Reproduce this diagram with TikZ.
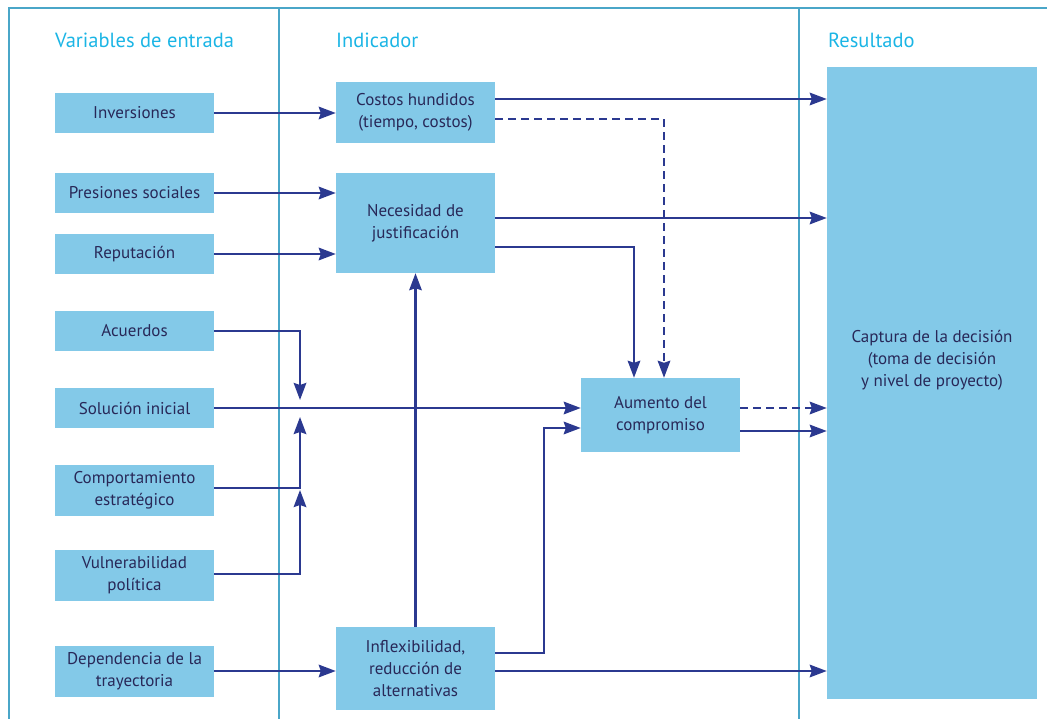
\documentclass[tikz,border=0pt]{standalone}
\usepackage{fontspec}
\setmainfont{PT Sans}
\usetikzlibrary{arrows.meta}
\definecolor{boxblue}{RGB}{131,201,232}
\definecolor{framecol}{RGB}{74,166,200}
\definecolor{headcol}{RGB}{27,181,229}
\definecolor{arrowcol}{RGB}{43,57,144}
\definecolor{txtcol}{RGB}{40,40,88}
\begin{document}
\begin{tikzpicture}[x=1pt,y=-1pt,
  box/.style={fill=boxblue,text=txtcol,align=center,inner sep=0pt,
    minimum width=159pt,font=\fontsize{17}{22}\selectfont},
  head/.style={text=headcol,anchor=west,inner sep=0pt,font=\fontsize{20.5}{24}\selectfont},
  frameline/.style={draw=framecol,line width=2.4pt},
  conn/.style={draw=arrowcol,line width=2.4pt,-{Stealth[length=17pt,width=12.5pt,inset=2pt]}},
  dconn/.style={conn,dash pattern=on 8pt off 5pt}]
\useasboundingbox (0,0) rectangle (1047,719);
% frame
\draw[frameline] (9,719) -- (9,8) -- (1047,8);
\draw[frameline] (279,8) -- (279,719);
\draw[frameline] (799,8) -- (799,719);
% headings
\node[head] (h1) at (55,40) {Variables de entrada};
\node[head] (h2) at (336,40) {Indicador};
\node[head] (h3) at (828,40) {Resultado};
% input boxes
\node[box,minimum height=40pt] (inv) at (134.5,113) {Inversiones};
\node[box,minimum height=40pt] (pres) at (134.5,193) {Presiones sociales};
\node[box,minimum height=40pt] (rep) at (134.5,254) {Reputación};
\node[box,minimum height=40pt] (acu) at (134.5,331) {Acuerdos};
\node[box,minimum height=40pt] (sol) at (134.5,408) {Solución inicial};
\node[box,minimum height=51pt] (comp) at (134.5,490.5) {Comportamiento\\estratégico};
\node[box,minimum height=51pt] (vul) at (134.5,575.5) {Vulnerabilidad\\política};
\node[box,minimum height=51pt] (dep) at (134.5,671.5) {Dependencia de la\\trayectoria};
% indicator boxes
\node[box,minimum height=61pt] (cos) at (415.5,112.5) {Costos hundidos\\(tiempo, costos)};
\node[box,minimum height=100pt] (nec) at (415.5,223) {Necesidad de\\justificación};
\node[box,minimum height=83pt] (inf) at (415.5,668.5) {Inflexibilidad,\\reducción de\\alternativas};
\node[box,minimum height=74pt] (aum) at (660.5,415) {Aumento del\\compromiso};
% result box
\node[box,minimum width=210pt,minimum height=632pt] (cap) at (932,383) {};
\node[text=txtcol,align=center,inner sep=0pt,font=\fontsize{17}{22}\selectfont] (captxt) at (932,360) {Captura de la decisión\\(toma de decisión\\y nivel de proyecto)};
% connectors
\draw[conn] (inv.east) -- (inv.east -| cos.west);
\draw[conn] (pres.east) -- (pres.east -| nec.west);
\draw[conn] (rep.east) -- (rep.east -| nec.west);
\draw[conn] (cos.east |- 0,99) -- (cap.west |- 0,99);
\draw[dconn] (cos.east |- 0,119) -| (aum.north -| 664,0);
\draw[conn] (nec.east |- 0,218) -- (cap.west |- 0,218);
\draw[conn] (nec.east |- 0,247) -| (aum.north -| 634,0);
\draw[conn] (acu.east) -| (300,400);
\draw[conn] (sol.east) -- (sol.east -| aum.west);
\draw[conn] (comp.east |- 0,488) -| (300,417);
\draw[conn] (vul.east |- 0,574) -| (300,490);
\draw[conn] (inf.north) -- (nec.south);
\draw[conn] (inf.east |- 0,653) -| (544,428) -- (aum.west |- 0,428);
\draw[conn] (inf.east |- 0,671) -- (cap.west |- 0,671);
\draw[conn] (dep.east |- 0,671) -- (inf.west |- 0,671);
\draw[dconn] (aum.east |- 0,408) -- (cap.west |- 0,408);
\draw[conn] (aum.east |- 0,431) -- (cap.west |- 0,431);
\end{tikzpicture}
\end{document}
